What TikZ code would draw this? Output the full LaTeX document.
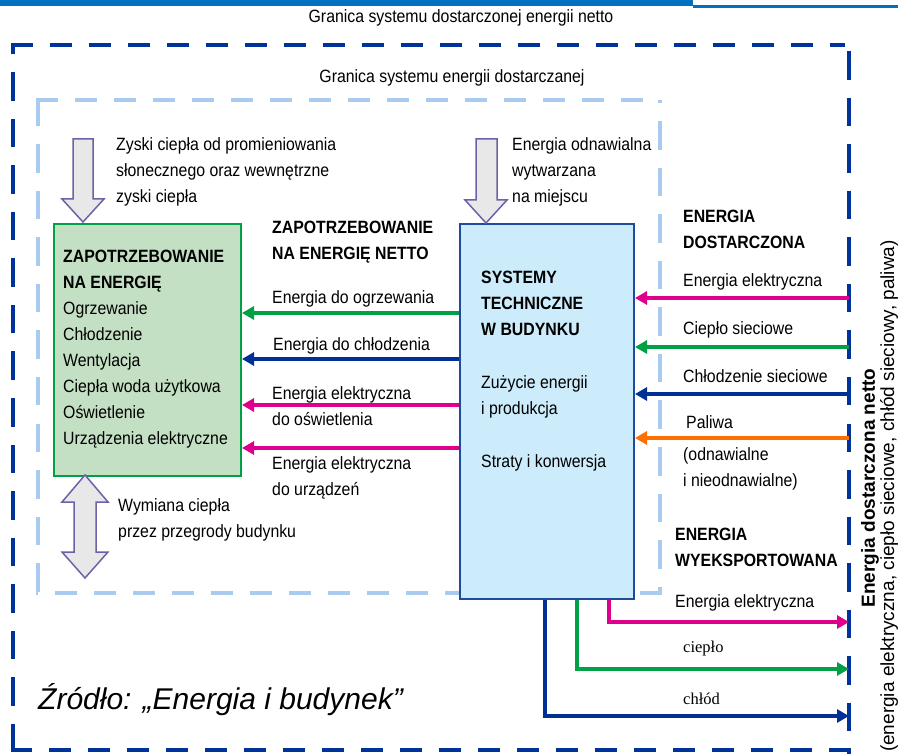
\documentclass[tikz,border=0pt]{standalone}
\usepackage{fontspec}
\setmainfont{Liberation Sans}[FakeStretch=0.89]
\newfontfamily\widesans{Liberation Sans}
\newfontfamily\timesf{Liberation Serif}
\usetikzlibrary{arrows.meta}
\definecolor{topbar}{RGB}{0,112,192}
\definecolor{outerb}{RGB}{0,51,153}
\definecolor{innerb}{RGB}{168,203,239}
\definecolor{gfill}{RGB}{196,224,196}
\definecolor{gline}{RGB}{0,160,70}
\definecolor{bfill}{RGB}{204,235,251}
\definecolor{bline}{RGB}{31,75,158}
\definecolor{cmag}{RGB}{222,0,140}
\definecolor{cgrn}{RGB}{0,160,70}
\definecolor{cblu}{RGB}{0,48,150}
\definecolor{corg}{RGB}{255,110,0}
\definecolor{afill}{RGB}{232,232,232}
\definecolor{aline}{RGB}{112,96,168}
\begin{document}
\begin{tikzpicture}[x=1pt,y=-1pt,
  txt/.style={inner sep=0pt, anchor=west, align=left, font={\fontsize{17.8}{26}\selectfont}},
  btxt/.style={inner sep=0pt, anchor=west, align=left, font={\fontsize{17.8}{26}\selectfont\bfseries}},
  hd/.style={line width=4.5pt, dash pattern=on 22pt off 17pt},
  vd/.style={line width=4.5pt, dash pattern=on 28.5pt off 18pt},
  arr/.style={line width=4pt, -{Triangle[length=12pt,width=13pt]}},
  blockarrow/.style={fill=afill, draw=aline, line width=1.5pt, line join=miter},
  serif/.style={inner sep=0pt, anchor=west, font={\timesf\fontsize{16.5}{20}\selectfont}}
]
\useasboundingbox (0,0) rectangle (898,754);
\fill[white] (0,0) rectangle (898,754);
% top bar
\fill[topbar] (0,0) rectangle (693,6);
\fill[topbar] (693,5) rectangle (898,8);

% outer boundary
\draw[hd,outerb] (10.75,45) -- (845,45);
\draw[vd,outerb] (13,752) -- (13,45);
\draw[hd,outerb] (851.25,750) -- (10.75,750);
\draw[vd,outerb] (849,51.5) -- (849,760);
\coordinate (bR) at (849,0);

% inner boundary
\draw[hd,innerb] (36,100) -- (660,100);
\draw[vd,innerb] (38,98) -- (38,595);
\draw[vd,innerb,dash phase=25pt] (660,100) -- (660,595);
\draw[hd,innerb] (662,593) -- (36,593);

% titles
\node[txt,anchor=center] (title1) at (461,18) {Granica systemu dostarczonej energii netto};
\node[txt,anchor=center] (title2) at (452,78) {Granica systemu energii dostarczanej};

% boxes
\node[draw=gline, fill=gfill, line width=2pt, minimum width=187pt, minimum height=252pt, anchor=north west, inner sep=0pt] (dem) at (53,223) {};
\node[draw=bline, fill=bfill, line width=2pt, minimum width=174pt, minimum height=375pt, anchor=north west, inner sep=0pt] (sys) at (459,223) {};

% block arrows
\draw[blockarrow] (73,139) -- (93,139) -- (93,199) -- (104,199) -- (83,222) -- (62,199) -- (73,199) -- cycle;
\draw[blockarrow] (476,139) -- (497,139) -- (497,200) -- (507,200) -- (486,223) -- (465,200) -- (476,200) -- cycle;
\draw[blockarrow] (85,475) -- (108,502) -- (96,502) -- (96,552) -- (108,552) -- (85,578) -- (62,552) -- (74,552) -- (74,502) -- (62,502) -- cycle;

% texts in boxes
\node[txt] (demtxt) at (63,349) {\textbf{ZAPOTRZEBOWANIE}\\\textbf{NA ENERGIĘ}\\Ogrzewanie\\Chłodzenie\\Wentylacja\\Ciepła woda użytkowa\\Oświetlenie\\Urządzenia elektryczne};
\node[btxt] (systxt) at (481,303.5) {SYSTEMY\\TECHNICZNE\\W BUDYNKU};
\node[txt] (systxt2) at (481,396.5) {Zużycie energii\\i produkcja};
\node[txt] (systxt3) at (481,463) {Straty i konwersja};

% other texts
\node[txt] (gains) at (116,172) {Zyski ciepła od promieniowania\\słonecznego oraz wewnętrzne\\zyski ciepła};
\node[txt] (renew) at (512,172) {Energia odnawialna\\wytwarzana\\na miejscu};
\node[btxt] (netto) at (272,242.5) {ZAPOTRZEBOWANIE\\NA ENERGIĘ NETTO};
\node[txt] (l1) at (272,299) {Energia do ogrzewania};
\node[txt] (l2) at (273,346) {Energia do chłodzenia};
\node[txt] (l3) at (272,406.5) {Energia elektryczna\\do oświetlenia};
\node[txt] (l4) at (272,477.5) {Energia elektryczna\\do urządzeń};
\node[txt] (exch) at (118,520) {Wymiana ciepła\\przez przegrody budynku};

\node[btxt] (deliv) at (683,229) {ENERGIA\\DOSTARCZONA};
\node[txt] (r1) at (683,282) {Energia elektryczna};
\node[txt] (r2) at (683,330) {Ciepło sieciowe};
\node[txt] (r3) at (683,376) {Chłodzenie sieciowe};
\node[txt] (r4) at (686,422) {Paliwa};
\node[txt] (r5) at (683,469) {(odnawialne\\i nieodnawialne)};

\node[btxt] (export) at (675,547) {ENERGIA\\WYEKSPORTOWANA};
\node[txt] (e1) at (675,603) {Energia elektryczna};
\node[serif] (e2) at (683,649) {ciepło};
\node[serif] (e3) at (683,699) {chłód};

\node[inner sep=0pt, anchor=west, font={\widesans\itshape\fontsize{30}{36}\selectfont}] (src) at (38,700) {Źródło: „Energia i budynek”};

\node[inner sep=0pt, rotate=90, font={\widesans\bfseries\fontsize{19}{23}\selectfont}] (rot1) at (870,488) {Energia dostarczona netto};
\node[inner sep=0pt, rotate=90, font={\widesans\fontsize{19}{23}\selectfont}] (rot2) at (889,496) {(energia elektryczna, ciepło sieciowe, chłód sieciowy, paliwa)};

% arrows to demand box
\draw[arr,cgrn] (sys.west |- 0,313) -- (dem.east |- 0,313);
\draw[arr,cblu] (sys.west |- 0,359) -- (dem.east |- 0,359);
\draw[arr,cmag] (sys.west |- 0,405) -- (dem.east |- 0,405);
\draw[arr,cmag] (sys.west |- 0,448) -- (dem.east |- 0,448);

% delivered energy arrows
\draw[arr,cmag] (bR |- 0,298) -- (sys.east |- 0,298);
\draw[arr,cgrn] (bR |- 0,347) -- (sys.east |- 0,347);
\draw[arr,cblu] (bR |- 0,394) -- (sys.east |- 0,394);
\draw[arr,corg] (bR |- 0,438) -- (sys.east |- 0,438);

% exported energy arrows
\draw[arr,cmag] (sys.south -| 609,0) |- (bR |- 0,622);
\draw[arr,cgrn] (sys.south -| 577,0) |- (bR |- 0,669);
\draw[arr,cblu] (sys.south -| 545,0) |- (bR |- 0,716);
\end{tikzpicture}
\end{document}
